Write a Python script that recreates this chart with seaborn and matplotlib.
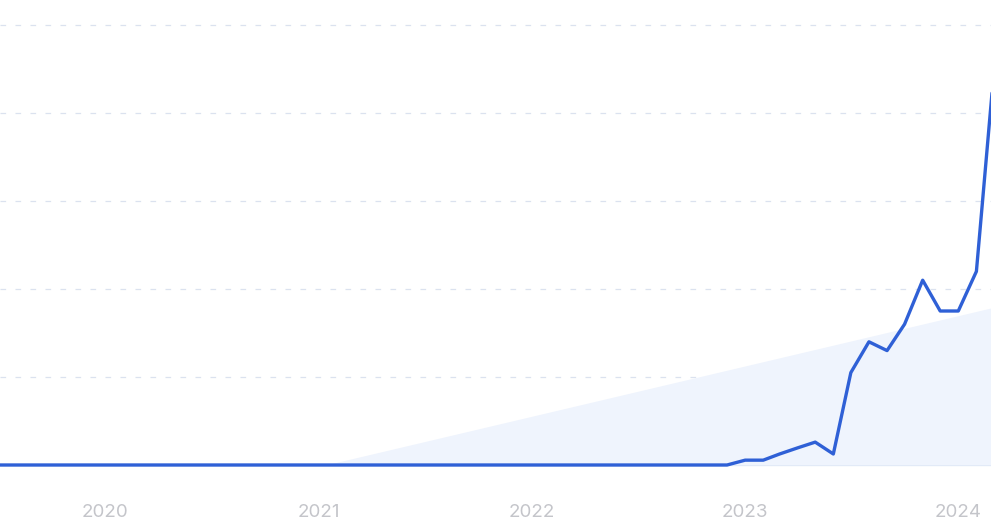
import pandas as pd
import numpy as np
import matplotlib
matplotlib.use("Agg")
import matplotlib.pyplot as plt
import matplotlib.dates as mdates
import seaborn as sns

# monthly values, Jul 2019 .. Mar 2024 (index scale 0-100)
months = pd.date_range("2019-07-01", "2024-03-01", freq="MS")
flat_part = [0, 0, 0, 0, 0, 0,                          # 2019 H2
             0, 0, 0, 0, 0, 0, 0, 0, 0, 0, 0, 0,        # 2020
             0, 0, 0, 0, 0, 0, 0, 0, 0, 0, 0, 0,        # 2021
             0, 0, 0, 0, 0, 0, 0, 0, 0, 0, 0, 0]        # 2022
values_2023 = [1.1, 1.1, 2.5, 3.9, 5.2, 2.5, 21, 28, 26, 32, 42, 35]
values_2024 = [35, 44, 88]
values = flat_part + values_2023 + values_2024

# light trend wedge underneath
trend_dates = pd.to_datetime(["2021-01-12", "2024-02-26"])
trend_values = [0, 35.7]

year_ticks = pd.to_datetime(["2020-01-01", "2021-01-01", "2022-01-01", "2023-01-01", "2024-01-01"])
year_labels = ["2020", "2021", "2022", "2023", "2024"]
grid_levels = [20, 40, 60, 80, 100]

df = pd.DataFrame({"date": months, "value": values})

sns.set_style("white")
plt.rcParams["font.family"] = ["Inter", "DejaVu Sans"]

fig = plt.figure(figsize=(9.91, 5.24), dpi=100)
# axes spans pixel rows 0..480 (from top)
ax = fig.add_axes([0, 44 / 524, 1, 480 / 524])

ax.fill_between(trend_dates, 0, trend_values, color="#eff4fd", linewidth=0, zorder=1)

for g in grid_levels:
    ax.axhline(g, color="#dbe2ef", lw=0.9, linestyle=(0, (4.5, 7.5)), zorder=0)
ax.axhline(0, color="#d6e0f2", lw=0.9, zorder=0)

sns.lineplot(data=df, x="date", y="value", ax=ax, color="#2f60d6", linewidth=2.4, zorder=3)

ax.set_xlim(pd.Timestamp("2019-07-05"), pd.Timestamp("2024-02-26"))
ax.set_ylim(-15 / 4.4, 465 / 4.4)

ax.set_xticks(year_ticks)
ax.set_xticklabels(year_labels)
ax.set_yticks([])
ax.tick_params(axis="x", length=0, pad=17, labelsize=13.5, labelcolor="#c4c5ca")
ax.set_xlabel("")
ax.set_ylabel("")
for s in ax.spines.values():
    s.set_visible(False)

fig.savefig("out.png", dpi=100)
